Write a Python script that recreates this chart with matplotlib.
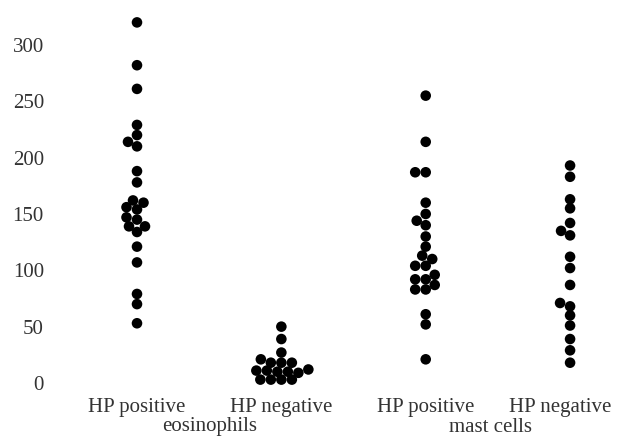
import numpy as np
import matplotlib
matplotlib.use("Agg")
import matplotlib.pyplot as plt
import matplotlib.transforms as mtransforms

# values (cells per field)
groups = ["HP positive", "HP negative", "HP positive", "HP negative"]
cell_types = ["eosinophils", "mast cells"]

eos_pos = [320, 282, 261, 229, 220, 214, 210, 188, 178, 162, 160, 156, 154,
           147, 145, 139, 139, 134, 121, 107, 79, 70, 53]
eos_neg = [50, 39, 27, 21, 18, 18, 18, 12, 11, 11, 10, 10, 9, 3, 3, 3, 3]
mast_pos = [255, 214, 187, 187, 160, 150, 144, 140, 130, 121, 113, 110, 104,
            104, 96, 92, 92, 87, 83, 83, 61, 52, 21]
mast_neg = [193, 183, 163, 155, 142, 135, 131, 112, 102, 87, 71, 68, 60, 51,
            39, 29, 18]

series = [eos_pos, eos_neg, mast_pos, mast_neg]

plt.rcParams['font.family'] = ['Liberation Serif', 'DejaVu Serif']

W, H = 618, 441
fig = plt.figure(figsize=(W / 100, H / 100), dpi=100)
ax = fig.add_axes([55 / W, (H - 392) / H, 563 / W, 382 / H])

xlim = (-0.568, 3.332)
ylim = (-8, 331)
px_x = 563 / (xlim[1] - xlim[0])   # pixels per x unit
px_y = 382 / (ylim[1] - ylim[0])   # pixels per y unit


def swarm(vals, dx=10.5, dy=8.5):
    # greedy beeswarm in pixel space (elliptic spacing), offsets in data units
    order = np.argsort(vals)
    ys = np.asarray(vals, float) * px_y
    placed = []
    offs = np.zeros(len(vals))
    cands = [0.0]
    for s in np.arange(0.5, 60, 0.5):
        cands += [-s, s]
    for i in order:
        for c in cands:
            ok = True
            for (px, py) in placed:
                if ((c - px) / dx) ** 2 + ((ys[i] - py) / dy) ** 2 < 1:
                    ok = False
                    break
            if ok:
                offs[i] = c
                placed.append((c, ys[i]))
                break
    return offs / px_x


for i, vals in enumerate(series):
    xo = swarm(vals)
    ax.scatter(i + xo, vals, s=58, color="black", edgecolors="none", zorder=3)

ax.set_xlim(*xlim)
ax.set_ylim(*ylim)
ax.set_yticks(range(0, 301, 50))
ax.set_xticks(range(4))
ax.set_xticklabels(groups)
ax.tick_params(axis="y", length=0, pad=8, labelsize=15, labelcolor="#333333")
ax.tick_params(axis="x", length=0, pad=4, labelsize=15, labelcolor="#333333")
for sp in ax.spines.values():
    sp.set_visible(False)

# last label sits against the right edge in the reference
last = ax.get_xticklabels()[-1]
last.set_transform(last.get_transform() +
                   mtransforms.ScaledTranslation(-10 / 100, 0, fig.dpi_scale_trans))

trans = mtransforms.blended_transform_factory(ax.transData, fig.transFigure)
ax.text(0.5, (H - 427) / H, cell_types[0], transform=trans, ha="center",
        va="center", fontsize=15, color="#333333")
ax.text(2.45, (H - 427) / H, cell_types[1], transform=trans, ha="center",
        va="center", fontsize=15, color="#333333")

fig.savefig("out.png", dpi=100)
